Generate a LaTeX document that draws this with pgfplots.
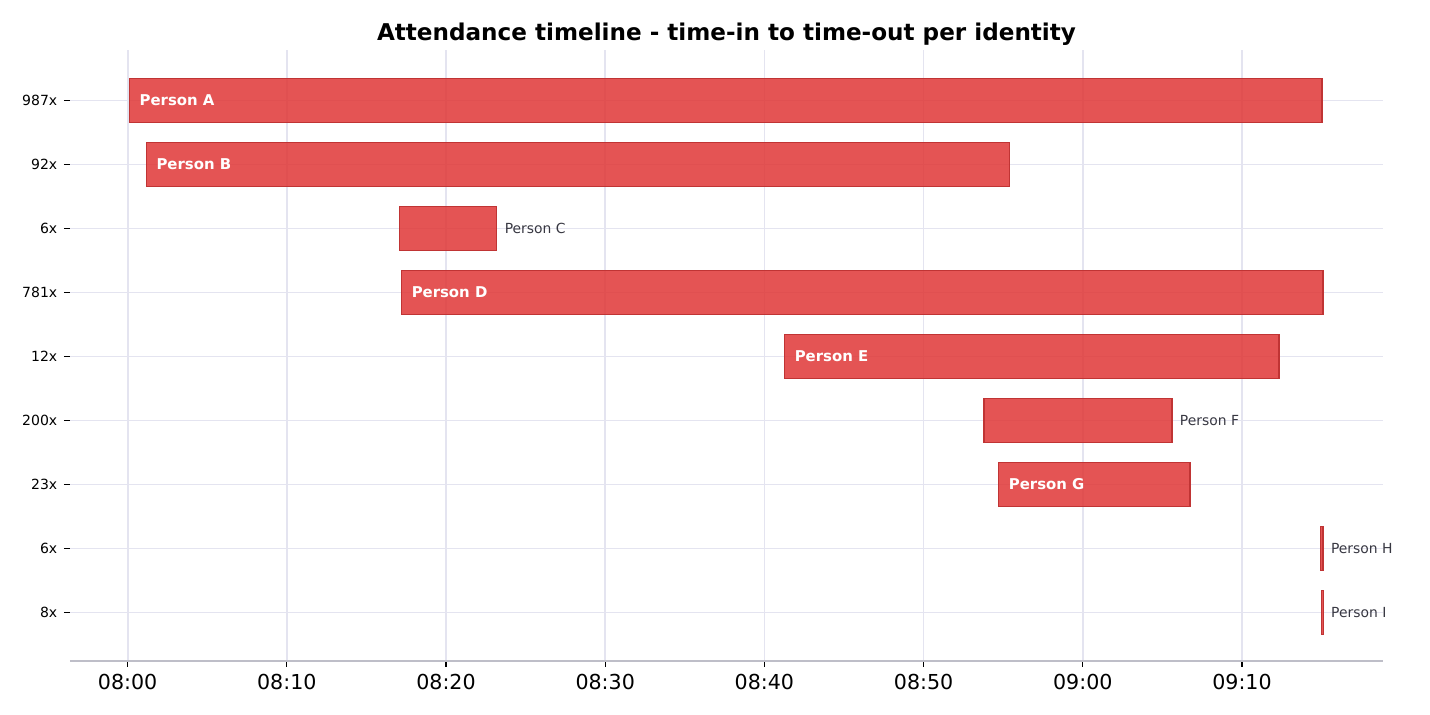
\documentclass[border=0pt]{standalone}
\usepackage{fontspec}
\setmainfont{DejaVu Sans}
\usepackage{pgfplots}
\usepackage{pgfplotstable}
\pgfplotsset{compat=1.18}

\definecolor{barfill}{RGB}{224,60,60}
\definecolor{baredge}{RGB}{192,52,52}
\definecolor{gridc}{RGB}{228,228,240}
\definecolor{spine}{RGB}{190,190,200}
\definecolor{lab}{RGB}{55,55,65}

% minutes after 08:00
\pgfplotstableread[col sep=comma]{
y,start,dur
0,0.13,74.90
1,1.19,54.23
2,17.09,6.10
3,17.22,57.87
4,41.28,31.05
5,53.79,11.81
6,54.73,12.00
7,74.92,0.17
8,75.00,0.10
}\bars

\pgfplotstableread[col sep=comma]{
y,x,label
0,0.13,Person A
1,1.19,Person B
3,17.22,Person D
4,41.28,Person E
6,54.73,Person G
}\inlab

\pgfplotstableread[col sep=comma]{
y,x,label
2,23.19,Person C
5,65.60,Person F
7,75.09,Person H
8,75.10,Person I
}\outlab

\pgfplotsset{
  common/.style={
    scale only axis, width=656.5pt, height=305.5pt,
    xmin=-3.62, xmax=78.86, ymin=-0.79, ymax=8.758, y dir=reverse,
    at={(0,0)}, anchor=south west,
  }
}

\begin{document}
\begin{tikzpicture}
\path[use as bounding box] (-35pt,-27pt) rectangle (680pt,330.5pt);
\begin{axis}[
  common,
  xbar stacked, bar width=0.68,
  xtick={0,10,...,70},
  xticklabels={08:00,08:10,08:20,08:30,08:40,08:50,09:00,09:10},
  ytick={0,1,...,8},
  yticklabels={987x,92x,6x,781x,12x,200x,23x,6x,8x},
  grid=major, major grid style={gridc, line width=0.9pt},
  axis x line*=bottom, axis y line*=left,
  x axis line style={spine, line width=0.6pt},
  y axis line style={draw=none},
  tick align=outside, major tick length=3pt,
  tick style={black, line width=0.6pt},
  xticklabel style={font=\fontsize{10.3}{12}\selectfont, anchor=base, inner sep=0pt, yshift=-11.2pt},
  yticklabel style={font=\fontsize{7.0}{9}\selectfont, anchor=east, inner sep=0pt, xshift=-3.2pt},
  title={Attendance timeline - time-in to time-out per identity},
  title style={font=\bfseries\fontsize{11.55}{14}\selectfont, at={(0.5,1)}, anchor=base, inner sep=0pt, yshift=-1.35pt},
]
\addplot[draw=none, fill=none] table[x=start, y=y] {\bars};
\addplot[fill=barfill, fill opacity=0.88, draw=baredge, line width=0.6pt] table[x=dur, y=y] {\bars};
\end{axis}
\begin{axis}[common, hide axis, clip=false]
\addplot[draw=none, nodes near coords, point meta=explicit symbolic,
  nodes near coords style={anchor=west, inner sep=0pt, xshift=4.8pt, text=white, font=\bfseries\fontsize{7.45}{9}\selectfont}]
  table[x=x, y=y, meta=label] {\inlab};
\addplot[draw=none, nodes near coords, point meta=explicit symbolic,
  nodes near coords style={anchor=west, inner sep=0pt, xshift=3.8pt, text=lab, font=\fontsize{6.95}{9}\selectfont}]
  table[x=x, y=y, meta=label] {\outlab};
\end{axis}
\end{tikzpicture}
\end{document}
